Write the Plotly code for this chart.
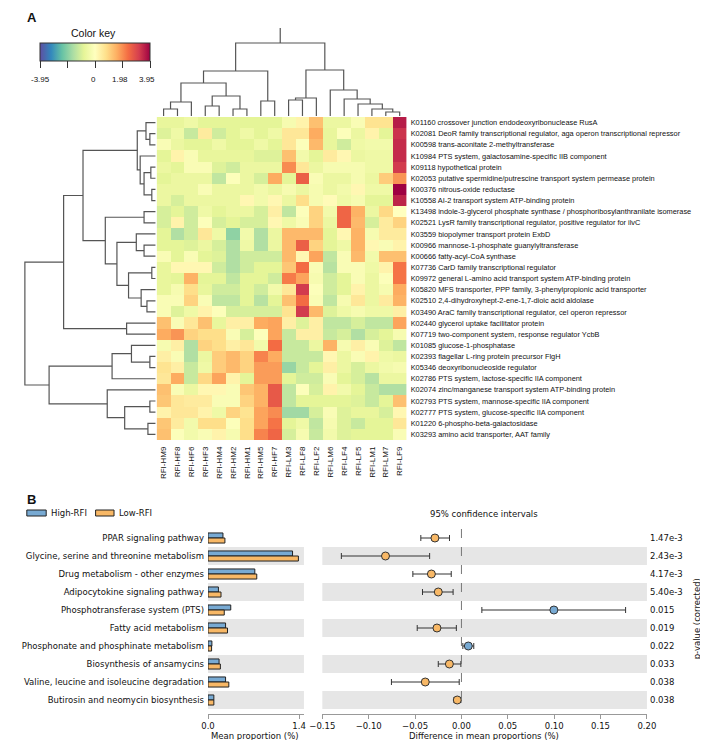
import plotly.graph_objects as go

W, H = 708, 740

samples = ["RFI-HM9", "RFI-HF8", "RFI-HF6", "RFI-HF3", "RFI-HM4", "RFI-HM2", "RFI-HM1", "RFI-HM5", "RFI-HF7",
           "RFI-LM3", "RFI-LF8", "RFI-LF2", "RFI-LM6", "RFI-LF4", "RFI-LF5", "RFI-LM1", "RFI-LM7", "RFI-LF9"]

kos = [
    "K01160 crossover junction endodeoxyribonuclease RusA",
    "K02081 DeoR family transcriptional regulator, aga operon transcriptional repressor",
    "K00598 trans-aconitate 2-methyltransferase",
    "K10984 PTS system, galactosamine-specific IIB component",
    "K09118 hypothetical protein",
    "K02053 putative spermidine/putrescine transport system permease protein",
    "K00376 nitrous-oxide reductase",
    "K10558 AI-2 transport system ATP-binding protein",
    "K13498 indole-3-glycerol phosphate synthase / phosphoribosylanthranilate isomerase",
    "K02521 LysR family transcriptional regulator, positive regulator for ilvC",
    "K03559 biopolymer transport protein ExbD",
    "K00966 mannose-1-phosphate guanylyltransferase",
    "K00666 fatty-acyl-CoA synthase",
    "K07736 CarD family transcriptional regulator",
    "K09972 general L-amino acid transport system ATP-binding protein",
    "K05820 MFS transporter, PPP family, 3-phenylpropionic acid transporter",
    "K02510 2,4-dihydroxyhept-2-ene-1,7-dioic acid aldolase",
    "K03490 AraC family transcriptional regulator, cel operon repressor",
    "K02440 glycerol uptake facilitator protein",
    "K07719 two-component system, response regulator YcbB",
    "K01085 glucose-1-phosphatase",
    "K02393 flagellar L-ring protein precursor FlgH",
    "K05346 deoxyribonucleoside regulator",
    "K02786 PTS system, lactose-specific IIA component",
    "K02074 zinc/manganese transport system ATP-binding protein",
    "K02793 PTS system, mannose-specific IIA component",
    "K02777 PTS system, glucose-specific IIA component",
    "K01220 6-phospho-beta-galactosidase",
    "K03293 amino acid transporter, AAT family",
]

z = [
    [-0.7, -0.7, -0.5, -0.8, -0.8, -0.8, -0.8, -0.8, -0.8, -0.3, 0.3, 1.3, -0.6, -0.6, -0.2, 0.7, 0.7, 3.6],
    [-0.9, -0.5, -1.2, 0.5, -1.1, -0.8, -0.5, -0.8, -0.5, 0.6, 0.6, 1.6, -0.7, -0.1, -0.6, 0.3, -0.8, 3.3],
    [-0.2, -0.6, -0.8, -0.8, -0.5, -0.8, -0.8, -0.5, -0.8, 0.6, -0.1, 1.4, -0.7, -1.1, -0.5, -0.4, -0.4, 3.4],
    [-0.8, 0.3, -0.2, -0.7, -0.7, -0.7, -0.7, -0.9, -0.9, 1.3, -0.4, -0.8, 0.5, 0.2, -0.6, -0.5, -0.5, 3.4],
    [-0.6, -0.8, -0.2, -0.2, -0.9, -1.1, -0.6, -0.6, -0.6, 2.0, 0.6, -0.6, -0.3, -0.3, -0.3, -0.5, -0.5, 3.2],
    [-0.8, -0.6, -0.6, -0.6, -1.3, -0.1, -0.6, -1.0, 1.6, -0.8, 2.6, -0.2, -0.6, -0.6, -0.3, -0.6, 1.1, 1.9],
    [-0.6, -0.6, -0.6, -0.2, -0.6, -0.6, -0.6, -0.4, -0.6, -0.3, -0.6, -0.3, -0.6, -0.4, 0.2, -0.5, -0.5, 3.95],
    [-0.6, -1.0, -0.6, -0.6, -0.6, -0.6, 0.2, -0.4, 0.2, -0.6, 0.8, -0.3, 0.1, -0.5, -0.3, -0.8, -0.8, 3.5],
    [-1.0, -0.8, -1.1, -0.5, -0.8, -0.6, -0.6, -1.0, 0.4, -1.3, -0.1, 1.0, -0.4, 2.5, 1.5, -0.6, 0.9, 0.0],
    [-1.0, 0.3, -1.1, -0.1, -1.0, -0.8, -1.0, -1.0, 0.2, -0.5, -0.2, 1.0, -0.6, 2.5, 1.4, -1.0, 0.5, 1.0],
    [-0.8, -1.5, -1.1, 0.6, -0.5, -1.9, -0.4, -1.5, -0.6, 1.4, 1.4, 1.4, -0.8, 0.2, 1.5, -0.3, 0.5, 0.5],
    [-0.8, -0.8, -0.9, -0.6, -1.0, -1.5, -0.5, -1.5, -0.6, 1.4, 2.6, 1.0, -0.8, -0.5, 1.5, 0.2, -0.2, 0.3],
    [-0.2, -0.8, -0.2, -0.8, -0.9, -1.5, -1.1, -1.1, -1.1, 1.4, 0.2, 1.7, -1.3, -0.2, 1.4, -0.4, 1.3, 1.3],
    [-0.7, 0.2, 0.2, 0.2, -1.1, -1.5, -1.1, -0.8, -0.8, 1.2, 2.4, -0.2, -1.4, -0.2, -0.2, -0.5, 0.3, 2.3],
    [-0.7, -0.8, 1.5, -0.8, -0.8, -1.3, -0.8, -0.8, -1.1, 2.2, 1.7, -0.3, -1.1, -0.8, -0.2, -0.6, -0.1, 2.3],
    [-0.7, -0.3, 0.8, -0.7, -1.1, -1.1, -0.8, -1.1, -0.4, 0.6, 3.2, -0.1, -1.1, -0.8, 0.3, -0.6, -0.3, 1.6],
    [-0.2, -0.2, 1.0, -0.2, -1.3, -1.3, -0.8, -1.4, -0.8, 1.3, 2.4, -0.2, -1.3, -0.3, 0.6, -0.6, 0.5, 1.5],
    [-0.2, -0.9, -0.5, 0.3, -0.1, -1.0, -1.0, -1.0, -1.0, 0.7, 3.2, 1.4, -0.9, -0.5, -0.3, -0.5, -0.5, 0.4],
    [1.3, -0.2, 0.6, 1.3, -0.7, 0.4, 0.4, 1.6, 1.7, 0.4, -0.9, 0.4, -1.3, -1.3, -1.0, -1.3, -1.3, 1.7],
    [1.6, 1.9, 1.0, 0.8, 0.8, -0.2, -1.0, -0.1, 1.7, -1.2, 0.4, 0.4, -1.2, -1.0, -1.5, -1.0, -0.8, -0.3],
    [-0.3, 0.4, -1.5, 1.0, 0.8, 0.4, 0.6, -0.4, 2.4, -1.2, -1.2, -0.6, 1.5, -0.3, 0.4, -0.2, -0.9, -1.3],
    [0.4, -0.2, -1.5, -0.6, 1.1, 1.4, 1.0, 2.1, 1.6, -1.2, -1.2, -1.2, 0.2, -0.6, -0.2, 0.3, -0.5, -0.6],
    [0.7, 0.4, -1.2, -0.5, 1.1, 1.4, 1.0, 1.8, 1.8, -1.8, -1.2, -0.8, 0.4, -0.6, -1.0, -0.6, -0.4, -0.3],
    [0.6, 1.6, -1.2, 0.9, 1.7, 0.3, -0.8, 1.8, 1.8, -0.8, -1.1, -1.1, -0.2, -0.8, -1.0, -1.4, -0.6, -0.6],
    [1.3, -0.2, -0.6, 0.2, 0.2, -0.2, 1.2, 1.5, 2.7, -1.3, -0.1, -1.0, 0.3, -0.4, -0.8, -1.2, -1.5, -1.5],
    [1.2, 0.6, 0.5, 0.5, -0.2, -0.2, 1.0, 1.5, 2.7, -1.3, -0.8, -0.8, -0.8, -0.8, -0.9, -1.2, -0.8, 1.3],
    [0.3, 0.6, 0.6, 0.3, -0.5, 1.0, 0.7, 1.7, 2.0, -1.7, -1.7, -1.0, -0.2, -0.9, -0.7, -0.7, -1.0, 0.2],
    [1.2, 0.5, -0.4, 0.8, 0.8, -0.1, 0.8, 1.7, 2.3, -0.8, -0.5, -1.3, -0.3, -0.9, -1.2, -0.8, -0.8, 0.6],
    [1.3, -0.1, -0.4, -0.2, 0.3, -0.3, 0.8, 2.1, 2.5, -1.0, -0.3, -1.2, -0.4, -0.9, -0.8, -0.8, -0.8, -0.2],
]

# dendrograms: [merge height, left, right], leaves are column / row indices
col_tree = [73, [45, [33, [14, [7, 0, 1], 2], [20, [10, 3, 4], [7, 5, 6]]], [15, 7, 8]],
                [46, [18, [16, 9, 10], 11], [26, 12, [17, 13, [12, 14, [7, 15, [4, 16, 17]]]]]]]
row_tree = [135,
            [95, [75, [19, [10, 0, [6, 1, 2]], [16, 3, [12, [5, 4, 5], [4, 6, 7]]]],
                      [52, [12, 8, 9], [40, [20, 10, [12, 11, 12]], [28, [4, 13, 14], [15, 15, [9, 16, 17]]]]]],
                 [30, 18, 19]],
            [110, [45, [25, 20, [6, 21, 22]], 23], [50, 24, [32, [6, 25, 26], [8, 27, 28]]]]]

key_vals = [-3.95, -1.98, 0, 1.98, 3.95]
key_text = ["-3.95", "", "0", "1.98", "3.95"]

pathways = ["PPAR signaling pathway", "Glycine, serine and threonine metabolism",
            "Drug metabolism - other enzymes", "Adipocytokine signaling pathway",
            "Phosphotransferase system (PTS)", "Fatty acid metabolism",
            "Phosphonate and phosphinate metabolism", "Biosynthesis of ansamycins",
            "Valine, leucine and isoleucine degradation", "Butirosin and neomycin biosynthesis"]
high_rfi = [0.23, 1.30, 0.72, 0.16, 0.35, 0.27, 0.06, 0.17, 0.27, 0.09]
low_rfi = [0.26, 1.39, 0.75, 0.20, 0.25, 0.30, 0.055, 0.19, 0.32, 0.09]
diff = [-0.0286, -0.0819, -0.0324, -0.025, 0.0997, -0.0264, 0.0074, -0.013, -0.039, -0.0045]
ci_low = [-0.0438, -0.1295, -0.0524, -0.042, 0.022, -0.0477, 0.0015, -0.025, -0.0755, -0.008]
ci_high = [-0.0129, -0.0343, -0.011, -0.009, 0.177, -0.0055, 0.0133, -0.0006, -0.0024, -0.0006]
pvals = ["1.47e-3", "2.43e-3", "4.17e-3", "5.40e-3", "0.015", "0.019", "0.022", "0.033", "0.038", "0.038"]

BLUE = "#78aad3"
ORANGE = "#f8b866"
INK = "#111111"
spectral = ["#5e4fa2", "#3288bd", "#66c2a5", "#abdda4", "#e6f598", "#ffffbf",
            "#fee08b", "#fdae61", "#f46d43", "#d53e4f", "#9e0142"]
cscale = [[i / 10, c] for i, c in enumerate(spectral)]

NR = len(kos)
NC = len(samples)
ZMAX = 3.95
KEY_X0, KEY_LEN = 20, 110


def px(x):
    return x / W


def py(y):
    return 1 - y / H


def dendro(node, xs, ys):
    # returns (centre, height); collects segments in leaf-pos / height space
    if isinstance(node, int):
        return node, 0
    h, a, b = node
    ca, ha = dendro(a, xs, ys)
    cb, hb = dendro(b, xs, ys)
    xs += [ca, ca, cb, cb, None]
    ys += [ha, h, h, hb, None]
    return (ca + cb) / 2, h


fig = go.Figure()

# ---- panel A ----
fig.add_trace(go.Heatmap(
    z=z, x=list(range(NC)), y=list(range(NR)),
    colorscale=cscale, zmin=-ZMAX, zmax=ZMAX, xaxis="x", yaxis="y",
    colorbar=dict(orientation="h", x=px(KEY_X0), xanchor="left", y=py(35), yanchor="top",
                  len=KEY_LEN, lenmode="pixels", thickness=18, thicknessmode="pixels",
                  xpad=0, ypad=0, outlinewidth=1, outlinecolor="#333",
                  tickvals=key_vals, ticks="outside", ticklen=7, tickcolor="#333",
                  showticklabels=False),
    hoverinfo="skip"))

cx, cy = [], []
c_root, c_h = dendro(col_tree, cx, cy)
cx += [c_root, c_root]
cy += [c_h, 88]
fig.add_trace(go.Scatter(x=cx, y=cy, mode="lines", line=dict(color="#555", width=1.2),
                         xaxis="x4", yaxis="y4", hoverinfo="skip"))

rx, ry = [], []
dendro(row_tree, ry, rx)
fig.add_trace(go.Scatter(x=rx, y=ry, mode="lines", line=dict(color="#555", width=1.2),
                         xaxis="x5", yaxis="y5", hoverinfo="skip"))

# ---- panel B ----
pos = list(range(len(pathways)))
fig.add_trace(go.Bar(y=pos, x=high_rfi, orientation="h", marker=dict(color=BLUE, line=dict(color="#222", width=1)),
                     xaxis="x2", yaxis="y2", hoverinfo="skip"))
fig.add_trace(go.Bar(y=pos, x=low_rfi, orientation="h", marker=dict(color=ORANGE, line=dict(color="#222", width=1)),
                     xaxis="x2", yaxis="y2", hoverinfo="skip"))
fig.add_trace(go.Scatter(
    x=diff, y=pos, mode="markers", xaxis="x3", yaxis="y3",
    marker=dict(size=8, color=[BLUE if d > 0 else ORANGE for d in diff], line=dict(color="#333", width=1)),
    error_x=dict(type="data", symmetric=False,
                 array=[h - d for h, d in zip(ci_high, diff)],
                 arrayminus=[d - l for d, l in zip(diff, ci_low)],
                 color="#333", thickness=1, width=3),
    hoverinfo="skip"))

shapes = []
for i in pos:
    if i % 2 == 1:
        for ax in ("x2", "x3"):
            shapes.append(dict(type="rect", xref=ax + " domain", yref=ax.replace("x", "y"),
                               x0=0, x1=1, y0=i - 0.5, y1=i + 0.5, fillcolor="#e6e6e6",
                               line=dict(width=0), layer="below"))
shapes.append(dict(type="line", xref="x3", yref="y3", x0=0, x1=0, y0=-0.5, y1=9.5,
                   line=dict(color="#777", width=1, dash="dash")))
# legend handles
shapes.append(dict(type="rect", xref="paper", yref="paper", x0=px(6), x1=px(26), y0=py(508), y1=py(502),
                   fillcolor=BLUE, line=dict(color="#222", width=1)))
shapes.append(dict(type="rect", xref="paper", yref="paper", x0=px(77), x1=px(96), y0=py(508), y1=py(502),
                   fillcolor=ORANGE, line=dict(color="#222", width=1)))

dfont = dict(family="DejaVu Sans", size=8.5, color=INK)
ann = [
    dict(text="<b>A</b>", x=px(4), y=py(10), xanchor="left", yanchor="middle", font=dict(size=13, color=INK)),
    dict(text="<b>B</b>", x=px(4), y=py(491), xanchor="left", yanchor="middle", font=dict(size=13, color=INK)),
    dict(text="Color key", x=px(KEY_X0 + KEY_LEN / 2), y=py(25), xanchor="center", yanchor="middle",
         font=dict(size=10.5, color=INK)),
    dict(text="High-RFI", x=px(29), y=py(505), xanchor="left", yanchor="middle", font=dfont),
    dict(text="Low-RFI", x=px(99), y=py(505), xanchor="left", yanchor="middle", font=dfont),
    dict(text="95% confidence intervals", x=px(478), y=py(506), xanchor="center", yanchor="middle", font=dfont),
    dict(text="p-value (corrected)", x=px(698), y=py(611), xanchor="center", yanchor="middle", textangle=-90,
         font=dfont),
    dict(text="Mean proportion (%)", x=px(242), y=py(728), xanchor="center", yanchor="middle", font=dfont),
    dict(text="Difference in mean proportions (%)", x=px(478), y=py(728), xanchor="center", yanchor="middle",
         font=dfont),
]
# colour key labels sit a little lower than plotly's own tick labels
for v, t in zip(key_vals, key_text):
    if t:
        ann.append(dict(text=t, x=px(KEY_X0 + (v + ZMAX) / (2 * ZMAX) * KEY_LEN), y=py(71),
                        xanchor="center", yanchor="middle", font=dict(size=8, color=INK)))
for i, p in enumerate(pvals):
    ann.append(dict(text=p, xref="paper", yref="y3", x=px(647), y=i, xanchor="left", yanchor="middle",
                    font=dfont))
for a in ann:
    a.setdefault("xref", "paper")
    a.setdefault("yref", "paper")
    a["showarrow"] = False

hm_x = [px(140), px(398)]
hm_y = [py(432), py(109)]
b_y = [py(706), py(521)]
b_range = [9.5 + 5 / 18, -0.5]

fig.update_layout(
    width=W, height=H, margin=dict(l=0, r=0, t=0, b=0),
    paper_bgcolor="white", plot_bgcolor="white", showlegend=False,
    font=dict(family="Liberation Sans, Arial", color=INK),
    barmode="group", bargap=0.44, bargroupgap=0,
    shapes=shapes, annotations=ann,
    xaxis=dict(domain=hm_x, anchor="y", range=[-0.5, NC - 0.5], tickvals=list(range(NC)), ticktext=samples,
               tickangle=-90, ticks="", tickfont=dict(size=8, color=INK), showgrid=False, zeroline=False,
               ticklabelstandoff=4),
    yaxis=dict(domain=hm_y, anchor="x", range=[NR - 0.5, -0.5], tickvals=list(range(NR)), ticktext=kos,
               side="right", ticks="", tickfont=dict(size=7.4, color=INK), showgrid=False, zeroline=False,
               ticklabelstandoff=3),
    xaxis4=dict(domain=hm_x, anchor="y4", range=[-0.5, NC - 0.5], visible=False),
    yaxis4=dict(domain=[py(108), py(20)], anchor="x4", range=[0, 88], visible=False),
    xaxis5=dict(domain=[px(2), px(139)], anchor="y5", range=[137, 0], visible=False),
    yaxis5=dict(domain=hm_y, anchor="x5", range=[NR - 0.5, -0.5], visible=False),
    xaxis2=dict(domain=[px(193), px(292)], anchor="y2", range=[0, 1.475], tickvals=[0, 1.4],
                ticktext=["0.0", "1.4"], ticks="outside", ticklen=4, tickcolor="#999",
                showline=True, linecolor="#999", showgrid=False, zeroline=False, tickfont=dfont),
    yaxis2=dict(domain=b_y, anchor="x2", range=b_range, tickvals=pos, ticktext=pathways,
                ticks="", showgrid=False, zeroline=False, tickfont=dfont, ticklabelstandoff=3),
    xaxis3=dict(domain=[px(311), px(646)], anchor="y3", range=[-0.15, 0.2],
                tickvals=[-0.15, -0.1, -0.05, 0, 0.05, 0.1, 0.15, 0.2], tickformat=".2f",
                ticks="outside", ticklen=4, tickcolor="#999", showline=True, linecolor="#999",
                showgrid=False, zeroline=False, tickfont=dfont),
    yaxis3=dict(domain=b_y, anchor="x3", range=b_range, showticklabels=False, ticks="",
                showgrid=False, zeroline=False),
)

fig.write_html("out.html")
